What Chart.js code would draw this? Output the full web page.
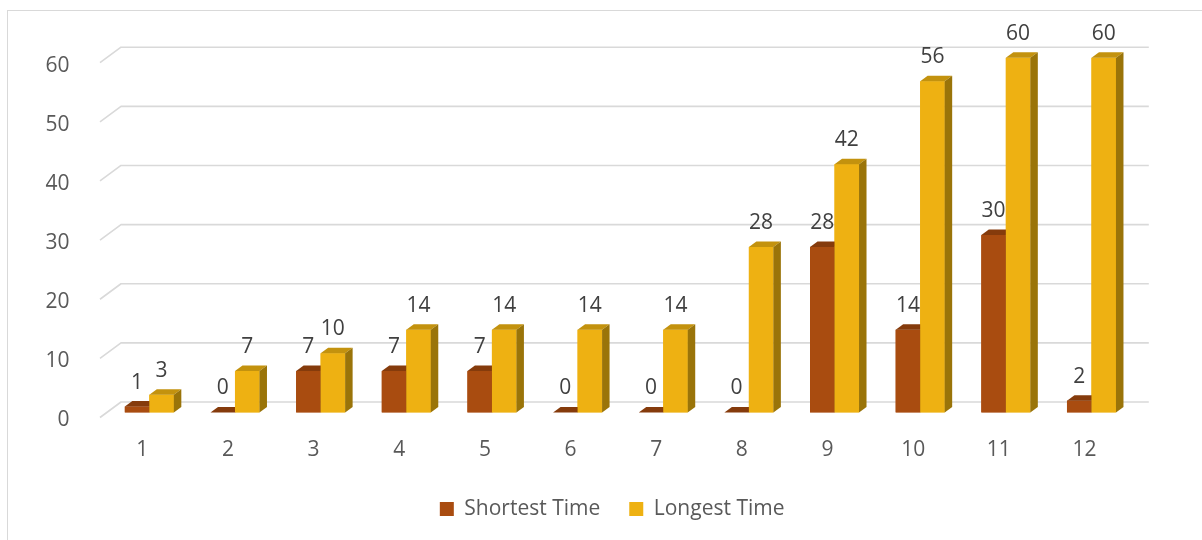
<!DOCTYPE html>
<html>
<head>
<meta charset="utf-8">
<script src="https://cdn.jsdelivr.net/npm/chart.js@4/dist/chart.umd.min.js"></script>
<style>
  html, body { margin: 0; padding: 0; background: #ffffff; }
  canvas { display: block; }
</style>
</head>
<body>
<canvas id="chart" width="1202" height="540"></canvas>
<script>
// Categories and series
const categories = ['1', '2', '3', '4', '5', '6', '7', '8', '9', '10', '11', '12'];
const shortestTime = [1, 0, 7, 7, 7, 0, 0, 0, 28, 14, 30, 2];
const longestTime = [3, 7, 10, 14, 14, 14, 14, 28, 42, 56, 60, 60];
const valueTicks = [0, 10, 20, 30, 40, 50, 60];

const FONT = '"Open Sans", "Noto Sans", "Liberation Sans", sans-serif';
const GRID_COLOR = '#d9d9d9';
// depth of each column and of the back wall
const BAR_DX = 7.5, BAR_DY = 5.5;
const WALL_FRONT_DX = -6.5, WALL_FRONT_DY = 5;
const WALL_BACK_DX = 14.5, WALL_BACK_DY = -10.5;
// horizontal shift that centres the legend under the whole frame
const LEGEND_SHIFT = 45;

// Outer frame of the chart
const framePlugin = {
  id: 'frame',
  beforeDraw(chart) {
    const ctx = chart.ctx;
    ctx.save();
    ctx.strokeStyle = GRID_COLOR;
    ctx.lineWidth = 1;
    ctx.strokeRect(7.5, 10.5, chart.width + 10, chart.height + 10);
    ctx.restore();
  }
};

// Centre the legend box on the frame rather than on the padded area
const legendShiftPlugin = {
  id: 'legendShift',
  afterLayout(chart) {
    if (chart.legend) {
      chart.legend.left += LEGEND_SHIFT;
      chart.legend.right += LEGEND_SHIFT;
    }
  }
};

// Gridlines on the side/back walls, behind the columns
const wallGridPlugin = {
  id: 'wallGrid',
  beforeDatasetsDraw(chart) {
    const { ctx, chartArea, scales } = chart;
    ctx.save();
    ctx.strokeStyle = GRID_COLOR;
    ctx.lineWidth = 1.6;
    ctx.lineJoin = 'round';
    valueTicks.forEach(v => {
      const y = scales.y.getPixelForValue(v);
      ctx.beginPath();
      ctx.moveTo(chartArea.left + WALL_FRONT_DX, y + WALL_FRONT_DY);
      ctx.lineTo(chartArea.left + WALL_BACK_DX, y + WALL_BACK_DY);
      ctx.lineTo(chartArea.right + WALL_BACK_DX, y + WALL_BACK_DY);
      ctx.stroke();
    });
    ctx.restore();
  }
};

// Columns as boxes: front, top and side faces, series drawn left to right
const columnBoxesPlugin = {
  id: 'columnBoxes',
  afterDatasetsDraw(chart) {
    const ctx = chart.ctx;
    ctx.save();
    chart.data.datasets.forEach((ds, i) => {
      chart.getDatasetMeta(i).data.forEach(bar => {
        const { x, y, base, width } = bar.getProps(['x', 'y', 'base', 'width'], true);
        const l = x - width / 2, r = x + width / 2;
        // front
        ctx.fillStyle = ds.backgroundColor;
        ctx.fillRect(l, y, width, base - y);
        // top
        ctx.fillStyle = ds.topColor;
        ctx.beginPath();
        ctx.moveTo(l, y);
        ctx.lineTo(l + BAR_DX, y - BAR_DY);
        ctx.lineTo(r + BAR_DX, y - BAR_DY);
        ctx.lineTo(r, y);
        ctx.closePath();
        ctx.fill();
        // side
        ctx.fillStyle = ds.sideColor;
        ctx.beginPath();
        ctx.moveTo(r, y);
        ctx.lineTo(r + BAR_DX, y - BAR_DY);
        ctx.lineTo(r + BAR_DX, base - BAR_DY);
        ctx.lineTo(r, base);
        ctx.closePath();
        ctx.fill();
      });
    });
    ctx.restore();
  }
};

// Value labels above the columns
const valueLabelsPlugin = {
  id: 'valueLabels',
  afterDatasetsDraw(chart) {
    const ctx = chart.ctx;
    ctx.save();
    ctx.font = '21px ' + FONT;
    ctx.fillStyle = '#404040';
    ctx.textAlign = 'center';
    ctx.textBaseline = 'middle';
    chart.data.datasets.forEach((ds, i) => {
      chart.getDatasetMeta(i).data.forEach((bar, j) => {
        ctx.fillText(String(ds.data[j]), bar.x, bar.y - 24);
      });
    });
    ctx.restore();
  }
};

function draw() {
  new Chart(document.getElementById('chart'), {
    type: 'bar',
    data: {
      labels: categories,
      datasets: [
        {
          label: 'Shortest Time',
          data: shortestTime,
          backgroundColor: '#A94C10',
          topColor: '#853B0C',
          sideColor: '#6E300A',
          borderWidth: 0,
          categoryPercentage: 0.572,
          barPercentage: 1
        },
        {
          label: 'Longest Time',
          data: longestTime,
          backgroundColor: '#EEB112',
          topColor: '#C3920E',
          sideColor: '#9A7409',
          borderWidth: 0,
          categoryPercentage: 0.572,
          barPercentage: 1
        }
      ]
    },
    options: {
      responsive: false,
      animation: false,
      devicePixelRatio: 1,
      layout: { padding: { left: 0, right: 67.7, top: 57.7, bottom: 10.5 } },
      scales: {
        x: {
          grid: { display: false },
          border: { display: false },
          ticks: {
            color: '#595959',
            font: { family: FONT, size: 21 },
            padding: 17,
            labelOffset: -7,
            maxRotation: 0
          },
          afterFit(scale) { scale.height = 57; }
        },
        y: {
          min: 0,
          max: 60,
          grid: { display: false },
          border: { display: false },
          ticks: {
            stepSize: 10,
            color: '#595959',
            font: { family: FONT, size: 21 },
            padding: 29,
            labelOffset: 8
          },
          afterFit(scale) { scale.width = 106.5; }
        }
      },
      plugins: {
        legend: {
          position: 'bottom',
          labels: {
            boxWidth: 14,
            boxHeight: 14,
            padding: 29,
            color: '#595959',
            font: { family: FONT, size: 21 }
          }
        },
        tooltip: { enabled: false }
      }
    },
    plugins: [framePlugin, legendShiftPlugin, wallGridPlugin, columnBoxesPlugin, valueLabelsPlugin]
  });
}

if (document.fonts && document.fonts.load) {
  document.fonts.load('21px "Open Sans"').then(draw, draw);
} else {
  draw();
}
</script>
</body>
</html>
